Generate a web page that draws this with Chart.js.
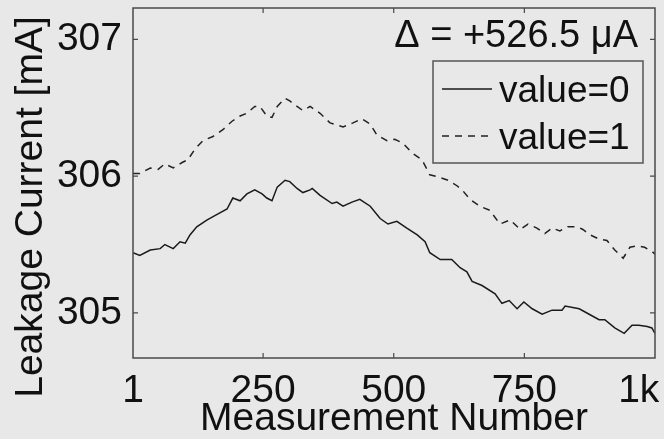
<!DOCTYPE html>
<html>
<head>
<meta charset="utf-8">
<script src="https://cdn.jsdelivr.net/npm/chart.js@4.4.0/dist/chart.umd.min.js"></script>
<style>
  body { margin: 0; background: #e8e8e8; }
  #wrap { width: 664px; height: 439px; }
</style>
</head>
<body>
<div id="wrap"><canvas id="myChart"></canvas></div>
<script>
// x axis ticks
const xTicks = [1, 250, 500, 750, 1000];
const xTickLabels = ['1', '250', '500', '750', '1k'];
const yTicks = [305, 306, 307];

// value=0 (solid)
const measure0 = [1, 14, 34, 53, 62, 78, 91, 101, 110, 123, 143, 162, 181, 192, 206, 219, 234, 248, 257, 267,
  277, 292, 301, 315, 326, 340, 344, 359, 382, 391, 403, 420, 435, 455, 474, 489, 506, 525, 545, 560,
  569, 589, 611, 627, 640, 650, 669, 694, 707, 721, 736, 749, 765, 784, 803, 822, 828, 855, 874, 893,
  904, 923, 941, 956, 969, 985, 994, 1000];
const current0 = [305.44, 305.42, 305.46, 305.47, 305.50, 305.47, 305.52, 305.51, 305.57, 305.63,
  305.68, 305.72, 305.76, 305.84, 305.82, 305.87, 305.90, 305.87, 305.84, 305.82,
  305.92, 305.97, 305.96, 305.91, 305.88, 305.90, 305.91, 305.86, 305.80, 305.81,
  305.78, 305.81, 305.83, 305.78, 305.69, 305.65, 305.67, 305.62, 305.57, 305.52,
  305.44, 305.39, 305.39, 305.33, 305.30, 305.23, 305.20, 305.14, 305.07, 305.09,
  305.03, 305.08, 305.03, 304.99, 305.02, 305.02, 305.05, 305.03, 304.99, 304.95,
  304.95, 304.89, 304.85, 304.91, 304.91, 304.90, 304.89, 304.85];

// value=1 (dashed)
const measure1 = [1, 14, 34, 49, 62, 78, 95, 106, 120, 135, 154, 173, 190, 206, 219, 234, 244, 257, 267, 277,
  292, 301, 315, 326, 340, 359, 378, 403, 422, 439, 455, 468, 487, 502, 518, 535, 554, 569, 589, 604,
  621, 633, 646, 665, 684, 703, 723, 742, 757, 774, 789, 803, 818, 833, 851, 862, 876, 893, 908, 923,
  939, 952, 966, 980, 994, 1000];
const current1 = [306.02, 306.02, 306.06, 306.05, 306.09, 306.06, 306.10, 306.12, 306.20, 306.26,
  306.29, 306.34, 306.40, 306.44, 306.46, 306.51, 306.51, 306.44, 306.43, 306.51,
  306.57, 306.55, 306.51, 306.48, 306.51, 306.46, 306.39, 306.36, 306.39, 306.42,
  306.38, 306.30, 306.26, 306.27, 306.24, 306.17, 306.12, 306.01, 305.99, 305.97,
  305.93, 305.89, 305.83, 305.78, 305.75, 305.65, 305.68, 305.61, 305.65, 305.62,
  305.58, 305.62, 305.60, 305.63, 305.63, 305.61, 305.57, 305.54, 305.53, 305.46,
  305.40, 305.48, 305.49, 305.48, 305.45, 305.43];

const FONT = "'Liberation Sans', Arial, sans-serif";
const INK = '#111';

function toPoints(xs, ys) {
  return xs.map((m, i) => ({ x: m, y: ys[i] }));
}

// box, inward ticks, y title, delta note and legend
const decor = {
  id: 'decor',
  afterDatasetsDraw(chart) {
    const { ctx, chartArea: a, scales: { x, y } } = chart;
    ctx.save();
    ctx.strokeStyle = '#4a4a4a';
    ctx.lineWidth = 1.5;
    ctx.strokeRect(a.left, a.top, a.width, a.height);

    ctx.lineWidth = 1.2;
    ctx.beginPath();
    xTicks.slice(1, -1).forEach(v => {
      const px = x.getPixelForValue(v);
      ctx.moveTo(px, a.bottom); ctx.lineTo(px, a.bottom - 5);
      ctx.moveTo(px, a.top); ctx.lineTo(px, a.top + 5);
    });
    yTicks.forEach(v => {
      const py = y.getPixelForValue(v);
      ctx.moveTo(a.left, py); ctx.lineTo(a.left + 5, py);
      ctx.moveTo(a.right, py); ctx.lineTo(a.right - 5, py);
    });
    ctx.stroke();

    // y axis title
    ctx.fillStyle = INK;
    ctx.font = '39px ' + FONT;
    ctx.save();
    ctx.translate(42, 207);
    ctx.rotate(-Math.PI / 2);
    ctx.textAlign = 'center';
    ctx.textBaseline = 'alphabetic';
    ctx.fillText('Leakage Current [mA]', 0, 0);
    ctx.restore();

    // delta note
    ctx.font = '38px ' + FONT;
    ctx.textAlign = 'right';
    ctx.textBaseline = 'alphabetic';
    ctx.fillText('\u0394 = +526.5 \u03bcA', a.right - 17, a.top + 39);

    // legend
    const lx = a.right - 222, ly = a.top + 53, lw = 210, lh = 102;
    ctx.fillStyle = '#e8e8e8';
    ctx.fillRect(lx, ly, lw, lh);
    ctx.strokeStyle = '#555';
    ctx.lineWidth = 1.5;
    ctx.strokeRect(lx, ly, lw, lh);
    ctx.font = '37px ' + FONT;
    ctx.textAlign = 'left';
    chart.data.datasets.forEach((ds, i) => {
      const rowY = ly + 28 + i * 47;
      ctx.strokeStyle = ds.borderColor;
      ctx.lineWidth = 1.3;
      ctx.setLineDash(ds.borderDash || []);
      ctx.beginPath();
      ctx.moveTo(lx + 9, rowY);
      ctx.lineTo(lx + 59, rowY);
      ctx.stroke();
      ctx.setLineDash([]);
      ctx.fillStyle = INK;
      ctx.fillText(ds.label, lx + 66, rowY + 13);
    });
    ctx.restore();
  }
};

const ctx = document.getElementById('myChart').getContext('2d');
new Chart(ctx, {
  type: 'line',
  data: {
    datasets: [{
      label: 'value=0',
      data: toPoints(measure0, current0),
      borderColor: '#1a1a1a',
      borderWidth: 1.5,
      pointRadius: 0,
      tension: 0
    }, {
      label: 'value=1',
      data: toPoints(measure1, current1),
      borderColor: '#222',
      borderWidth: 1.5,
      borderDash: [7, 6],
      pointRadius: 0,
      tension: 0
    }]
  },
  options: {
    responsive: true,
    maintainAspectRatio: false,
    animation: false,
    layout: { padding: { top: 8, right: 9, left: 0, bottom: 0 } },
    plugins: {
      legend: { display: false },
      tooltip: { enabled: false }
    },
    scales: {
      x: {
        type: 'linear',
        min: 1,
        max: 1000,
        grid: { display: false, drawTicks: false },
        border: { display: false },
        afterBuildTicks: scale => { scale.ticks = xTicks.map(v => ({ value: v })); },
        afterFit: scale => {
          scale.height = 81;
          scale.paddingLeft = 0;
          scale.paddingRight = 0;
        },
        ticks: {
          autoSkip: false,
          maxRotation: 0,
          padding: 10,
          color: INK,
          font: { family: FONT, size: 39 },
          callback: (v, i) => i === xTicks.length - 1 ? xTickLabels[i] + '   ' : xTickLabels[i]
        },
        title: {
          display: true,
          text: 'Measurement Number',
          color: INK,
          font: { family: FONT, size: 39, lineHeight: 1 },
          padding: { top: 0, bottom: 0 }
        }
      },
      y: {
        min: 304.67,
        max: 307.23,
        grid: { display: false, drawTicks: false },
        border: { display: false },
        afterBuildTicks: scale => { scale.ticks = yTicks.map(v => ({ value: v })); },
        afterFit: scale => {
          scale.width = 133;
          scale.paddingTop = 0;
          scale.paddingBottom = 0;
        },
        ticks: {
          padding: 11,
          color: INK,
          font: { family: FONT, size: 39 }
        }
      }
    }
  },
  plugins: [decor]
});
</script>
</body>
</html>
